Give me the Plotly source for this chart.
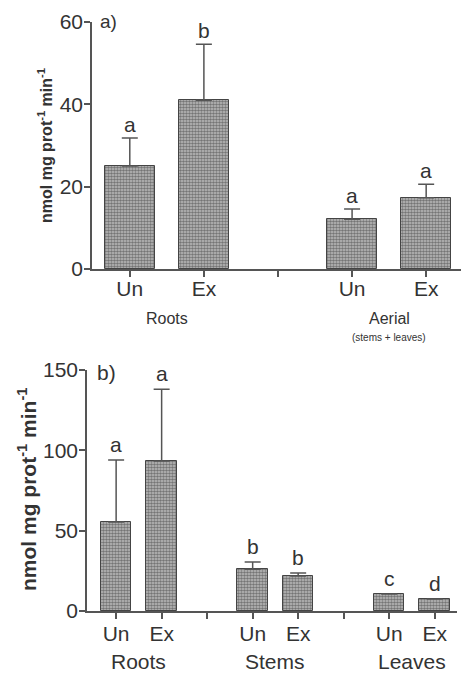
import plotly.graph_objects as go

# ---------------- data ----------------
top_groups = ["Roots", "Aerial"]
top_treat = ["Un", "Ex"]
top_values = [25.0, 41.0, 12.1, 17.3]
top_sd = [6.8, 13.6, 2.5, 3.3]
top_letters = ["a", "b", "a", "a"]

bot_groups = ["Roots", "Stems", "Leaves"]
bot_treat = ["Un", "Ex"]
bot_values = [55.4, 93.4, 26.0, 21.8, 10.6, 7.5]
bot_sd = [38.6, 44.6, 4.5, 1.8, 0.0, 0.0]
bot_letters = ["a", "a", "b", "b", "c", "d"]

top_yticks = [0, 20, 40, 60]
bot_yticks = [0, 50, 100, 150]

W, H = 461, 673
TXT = "#333333"
AX = "#555555"
FONT = "Liberation Sans, Arial, sans-serif"


def positions(groups, treats):
    xs, labels = [], []
    for gi, _ in enumerate(groups):
        for ti, t in enumerate(treats):
            xs.append(gi * (len(treats) + 1) + ti)
            labels.append(t)
    return xs, labels


def note(**kw):
    d = dict(showarrow=False, xanchor="center", yanchor="middle")
    d.update(kw)
    return d


fig = go.Figure()

pattern = dict(shape=".", size=3, solidity=0.6, fgcolor="#2a2a2a", bgcolor="#c0c0c0")

# ---- top panel ----
tx, tlab = positions(top_groups, top_treat)
fig.add_trace(go.Bar(
    x=tx, y=top_values, width=0.68,
    marker=dict(color="#c0c0c0", pattern=pattern, line=dict(color="#444444", width=1)),
    error_y=dict(type="data", symmetric=False, array=top_sd, arrayminus=[0] * len(top_sd),
                 color="#555555", thickness=1.5, width=8),
    xaxis="x", yaxis="y", showlegend=False,
))

# ---- bottom panel ----
bx, blab = positions(bot_groups, bot_treat)
fig.add_trace(go.Bar(
    x=bx, y=bot_values, width=0.67,
    marker=dict(color="#c0c0c0", pattern=pattern, line=dict(color="#444444", width=1)),
    error_y=dict(type="data", symmetric=False, array=bot_sd, arrayminus=[0] * len(bot_sd),
                 color="#555555", thickness=1.5, width=8),
    xaxis="x2", yaxis="y2", showlegend=False,
))

# tick positions incl. separators
top_tickvals = sorted(set(tx + [2]))
top_ticktext = [tlab[tx.index(v)] if v in tx else "" for v in top_tickvals]
bot_tickvals = sorted(set(bx + [2, 5]))
bot_ticktext = [blab[bx.index(v)] if v in bx else "" for v in bot_tickvals]

annotations = []
for x, v, s, l in zip(tx, top_values, top_sd, top_letters):
    annotations.append(note(x=x, y=v + s, xref="x", yref="y", text=l, yanchor="bottom", yshift=0,
                            font=dict(size=21, color=TXT, family=FONT)))
for x, v, s, l in zip(bx, bot_values, bot_sd, bot_letters):
    annotations.append(note(x=x, y=v + s, xref="x2", yref="y2", text=l, yanchor="bottom", yshift=2,
                            font=dict(size=21, color=TXT, family=FONT)))

# group labels
for gi, g in enumerate(top_groups):
    cx = gi * (len(top_treat) + 1) + (len(top_treat) - 1) / 2
    annotations.append(note(x=cx, y=1 - 318 / H, xref="x", yref="paper", text=g,
                            font=dict(size=16, color=TXT, family=FONT)))
annotations.append(note(x=3.5, y=1 - 337 / H, xref="x", yref="paper", text="(stems + leaves)",
                        font=dict(size=10, color=TXT, family=FONT)))
for gi, g in enumerate(bot_groups):
    cx = gi * (len(bot_treat) + 1) + (len(bot_treat) - 1) / 2
    annotations.append(note(x=cx, y=1 - 661 / H, xref="x2", yref="paper", text=g,
                            font=dict(size=21, color=TXT, family=FONT)))

# panel tags
annotations.append(note(x=98 / W, y=1 - 22 / H, xref="paper", yref="paper", text="a)",
                        xanchor="left", font=dict(size=19, color=TXT, family=FONT)))
annotations.append(note(x=95 / W, y=1 - 372 / H, xref="paper", yref="paper", text="b)",
                        xanchor="left", font=dict(size=21, color=TXT, family=FONT)))

# y titles
annotations.append(note(x=45 / W, y=1 - 146 / H, xref="paper", yref="paper",
                        text="<b>nmol mg prot<sup>-1</sup> min<sup>-1</sup></b>", textangle=-90,
                        font=dict(size=16, color=TXT, family=FONT)))
annotations.append(note(x=27 / W, y=1 - 490 / H, xref="paper", yref="paper",
                        text="<b>nmol mg prot<sup>-1</sup> min<sup>-1</sup></b>", textangle=-90,
                        font=dict(size=21, color=TXT, family=FONT)))

axis_common = dict(showgrid=False, zeroline=False, showline=True, linecolor=AX, linewidth=1.5,
                   ticks="outside", tickcolor=AX, tickwidth=1.5, ticklen=6, automargin=False,
                   tickfont=dict(size=21, color=TXT, family=FONT))

fig.update_layout(
    width=W, height=H, margin=dict(l=0, r=0, t=0, b=0, autoexpand=False),
    paper_bgcolor="white", plot_bgcolor="white",
    bargap=0,
    xaxis=dict(domain=[92 / W, 1.0], range=[-0.51, 4.47], anchor="y",
               tickvals=top_tickvals, ticktext=top_ticktext, ticklabelstandoff=-6, **axis_common),
    yaxis=dict(domain=[1 - 269 / H, 1 - 22 / H], range=[0, 60], anchor="x",
               tickvals=top_yticks, ticklabelstandoff=-3, **axis_common),
    xaxis2=dict(domain=[87 / W, 457 / W], range=[-0.64, 7.49], anchor="y2",
                tickvals=bot_tickvals, ticktext=bot_ticktext, ticklabelstandoff=-3, **axis_common),
    yaxis2=dict(domain=[1 - 611 / H, 1 - 370 / H], range=[0, 150], anchor="x2",
                tickvals=bot_yticks, ticklabelstandoff=-3, **axis_common),
    annotations=annotations,
)

fig.write_html("out.html")
